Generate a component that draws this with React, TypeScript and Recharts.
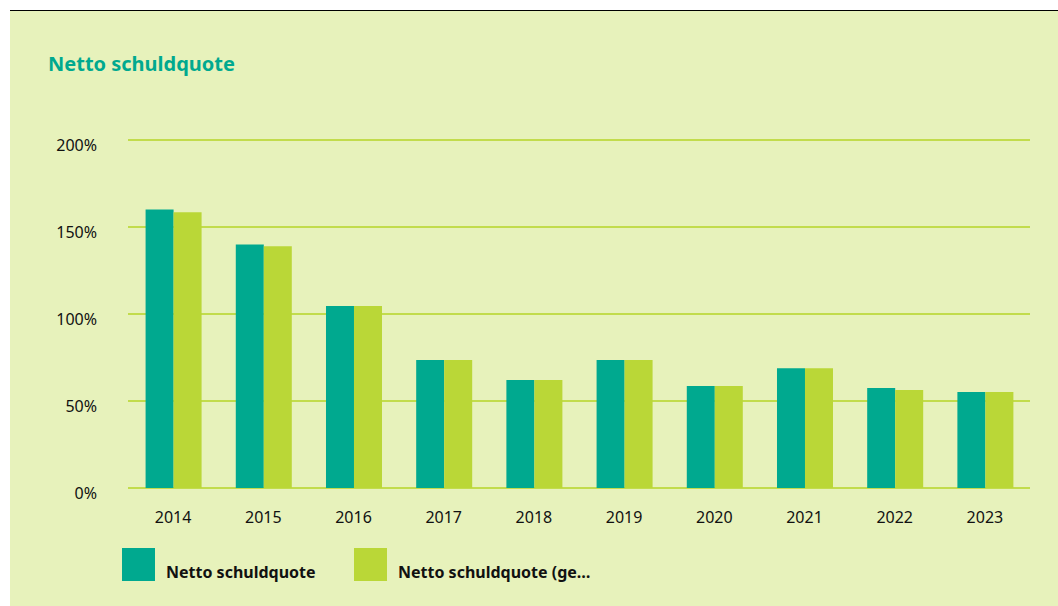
import React from 'react';
import { BarChart, Bar, XAxis, YAxis, CartesianGrid, Legend } from 'recharts';

const years = ['2014', '2015', '2016', '2017', '2018', '2019', '2020', '2021', '2022', '2023'];
const nettoSchuldquote = [160, 140, 104.6, 73.6, 62, 73.6, 58.6, 68.8, 57.5, 55.2];
const nettoSchuldquoteGe = [158.5, 139, 104.6, 73.6, 62, 73.6, 58.6, 68.8, 56.3, 55.2];
const yTicks = [0, 50, 100, 150, 200];
const seriesNames = ['Netto schuldquote', 'Netto schuldquote (ge…'];

const data = years.map((y, i) => ({ year: y, a: nettoSchuldquote[i], b: nettoSchuldquoteGe[i] }));

const TEAL = '#00A98F';
const LIME = '#BAD737';
const BG = '#E7F2BB';
const GRID = '#C2DC4C';
const FONT = '"Noto Sans", sans-serif';

const LegendContent = (props: any) => {
  const payload = props.payload || [];
  return (
    <div style={{ display: 'flex', height: 33, fontFamily: FONT }}>
      {payload.map((p: any, i: number) => (
        <div key={i} style={{ width: 232, flex: '0 0 232px', display: 'flex', alignItems: 'flex-end', height: 33 }}>
          <div style={{ width: 33, height: 33, flex: '0 0 33px', background: p.color, marginRight: 11 }} />
          <span style={{ fontWeight: 700, fontSize: 16, color: '#111', lineHeight: '16px', marginBottom: 1, whiteSpace: 'nowrap' }}>{p.value}</span>
        </div>
      ))}
    </div>
  );
};

export default function App() {
  return (
    <div style={{ position: 'absolute', left: 0, top: 0, width: 1058, height: 606, background: '#fff', overflow: 'hidden' }}>
      <div style={{ position: 'absolute', left: 10, top: 10, width: 1048, height: 1, background: '#000' }} />
      <div style={{ position: 'absolute', left: 10, top: 11, width: 1048, height: 595, background: BG }}>
        <div style={{ position: 'absolute', left: 38, top: 43, fontFamily: FONT, fontWeight: 700, fontSize: 20, lineHeight: '20px', color: TEAL }}>
          Netto schuldquote
        </div>
        <BarChart
          width={1048}
          height={595}
          data={data}
          margin={{ top: 129, right: 28, left: 0, bottom: 55 }}
          barCategoryGap="19.5%"
          barGap={0}
        >
          <CartesianGrid vertical={false} stroke={GRID} strokeWidth={2} />
          <XAxis
            dataKey="year"
            axisLine={false}
            tickLine={false}
            tickSize={0}
            tickMargin={24}
            height={30}
            tick={{ fill: '#111', fontSize: 16, fontFamily: FONT }}
          />
          <YAxis
            width={118}
            domain={[0, 200]}
            ticks={yTicks}
            axisLine={false}
            tickLine={false}
            tickSize={0}
            tickMargin={31}
            tickFormatter={(v: number) => `${v}%`}
            tick={{ fill: '#111', fontSize: 16, fontFamily: FONT, dy: 5 }}
          />
          <Legend
            verticalAlign="bottom"
            content={<LegendContent />}
            wrapperStyle={{ top: 537, bottom: 'auto', left: 112, width: 600 }}
          />
          <Bar dataKey="a" name={seriesNames[0]} fill={TEAL} isAnimationActive={false} />
          <Bar dataKey="b" name={seriesNames[1]} fill={LIME} isAnimationActive={false} />
        </BarChart>
      </div>
    </div>
  );
}
